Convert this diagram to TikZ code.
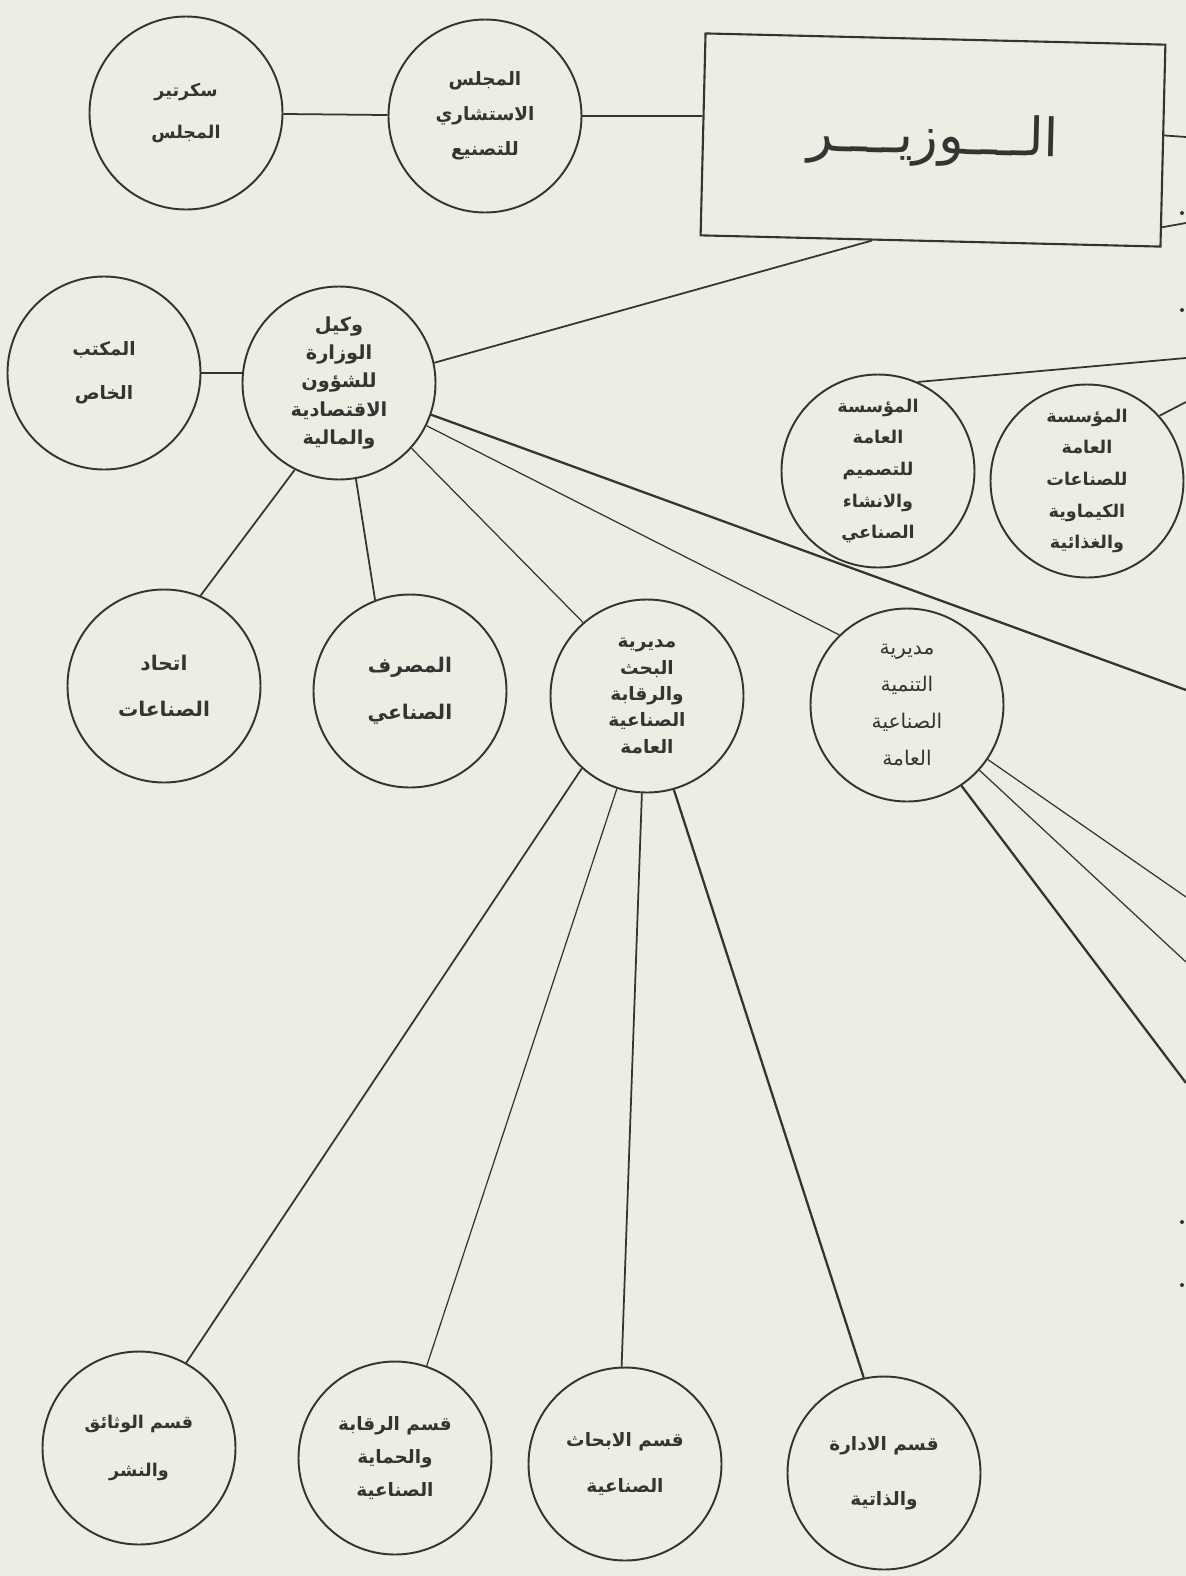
\documentclass[tikz,border=0pt]{standalone}
\usepackage{fontspec}
\newfontfamily\arabicfont[Script=Arabic]{DejaVu Sans}
\TeXXeTstate=1
\usetikzlibrary{calc}
\newcommand\rl[1]{\beginR#1\endR}
\newcommand\arb[2]{\arabicfont\bfseries\fontsize{#1}{#2}\selectfont}
\newcommand\arm[2]{\arabicfont\fontsize{#1}{#2}\selectfont}
\definecolor{paper}{RGB}{236,238,227}
\definecolor{ink}{RGB}{52,52,50}
\tikzset{
  unit/.style={circle, draw=ink, line width=1.1pt, minimum size=38.6mm, inner sep=0pt, align=center, text=ink},
  link/.style={draw=ink, line width=1pt},
  thin link/.style={draw=ink, line width=0.7pt},
  heavy link/.style={draw=ink, line width=1.3pt},
}
\begin{document}
\begin{tikzpicture}[x=0.2mm,y=-0.2mm]
\path[use as bounding box, fill=paper] (0,0) rectangle (1186,1576);

\node[draw=ink, line width=1.2pt, minimum width=92mm, minimum height=40.4mm, rotate=-1.4, text=ink, font=\arm{30}{34}] (minister) at (933,140) {\raisebox{1.8mm}{\rl{الــــوزيــــر}}};
\node[unit, font=\arb{10}{24}] (secretary) at (186,113) {\rl{سكرتير}\\\rl{المجلس}};
\node[unit, font=\arb{10.5}{20}] (council) at (485,116) {\rl{المجلس}\\\rl{الاستشاري}\\\rl{للتصنيع}};
\node[unit, font=\arb{10.5}{25}] (office) at (104,373) {\rl{المكتب}\\\rl{الخاص}};
\node[unit, font=\arb{11}{16}] (deputy) at (339,383) {\rl{وكيل}\\\rl{الوزارة}\\\rl{للشؤون}\\\rl{الاقتصادية}\\\rl{والمالية}};
\node[unit, font=\arb{10}{18}] (design) at (878,471) {\rl{المؤسسة}\\\rl{العامة}\\\rl{للتصميم}\\\rl{والانشاء}\\\rl{الصناعي}};
\node[unit, font=\arb{10}{18}] (chem) at (1087,481) {\rl{المؤسسة}\\\rl{العامة}\\\rl{للصناعات}\\\rl{الكيماوية}\\\rl{والغذائية}};
\node[unit, font=\arb{11.5}{26}] (union) at (164,686) {\rl{اتحاد}\\\rl{الصناعات}};
\node[unit, font=\arb{11.5}{27}] (bank) at (410,691) {\rl{المصرف}\\\rl{الصناعي}};
\node[unit, font=\arb{10.5}{15}] (resdir) at (647,696) {\rl{مديرية}\\\rl{البحث}\\\rl{والرقابة}\\\rl{الصناعية}\\\rl{العامة}};
\node[unit, font=\arm{11.5}{21}] (devdir) at (907,705) {\rl{مديرية}\\\rl{التنمية}\\\rl{الصناعية}\\\rl{العامة}};
\node[unit, font=\arb{10}{27}] (docs) at (139,1448) {\rl{قسم الوثائق}\\\rl{والنشر}};
\node[unit, font=\arb{10.5}{19}] (control) at (395,1458) {\rl{قسم الرقابة}\\\rl{والحماية}\\\rl{الصناعية}};
\node[unit, font=\arb{10.5}{26}] (ressec) at (625,1464) {\rl{قسم الابحاث}\\\rl{الصناعية}};
\node[unit, font=\arb{10.5}{31}] (admin) at (884,1473) {\rl{قسم الادارة}\\\rl{والذاتية}};

\coordinate (cutA) at (1186,137);
\coordinate (cutB) at (1186,223);
\coordinate (cutC) at (1186,358);
\coordinate (cutD) at (1186,402);
\coordinate (cutE) at (1186,690);
\coordinate (cutF) at (1186,897);
\coordinate (cutG) at (1186,962);
\coordinate (cutH) at (1186,1083);

\draw[link] (secretary) -- (council);
\draw[link] (council.east) -- (council.east -| minister.west);
\draw[link] ($(minister.north east)!0.45!(minister.south east)$) -- (cutA);
\draw[link] ($(minister.north east)!0.9!(minister.south east)$) -- (cutB);
\draw[link] ($(minister.south west)!0.373!(minister.south east)$) -- (deputy.12);
\draw[link] (office.east) -- (office.east -| deputy.west);
\draw[heavy link] (deputy.-19) -- (cutE);
\draw[thin link] (deputy.-26) -- (devdir.134);
\draw[thin link] (deputy.-42) -- (resdir.131);
\draw[link] (deputy.-80) -- (bank.111);
\draw[link] (deputy.243) -- (union.68);
\draw[link] (design.66) -- (cutC);
\draw[link] (chem.42) -- (cutD);
\draw[link] (resdir.228) -- (docs.61);
\draw[thin link] (resdir.252) -- (control.71);
\draw[link] (resdir.267) -- (ressec.92);
\draw[heavy link] (resdir.286) -- (admin.102);
\draw[thin link] (devdir.-34) -- (cutF);
\draw[thin link] (devdir.-42) -- (cutG);
\draw[heavy link] (devdir.-56) -- (cutH);

\fill[ink] (1182,213) circle (0.4mm) (1182,310) circle (0.4mm) (1182,1222) circle (0.4mm) (1182,1285) circle (0.4mm);
\end{tikzpicture}
\end{document}
